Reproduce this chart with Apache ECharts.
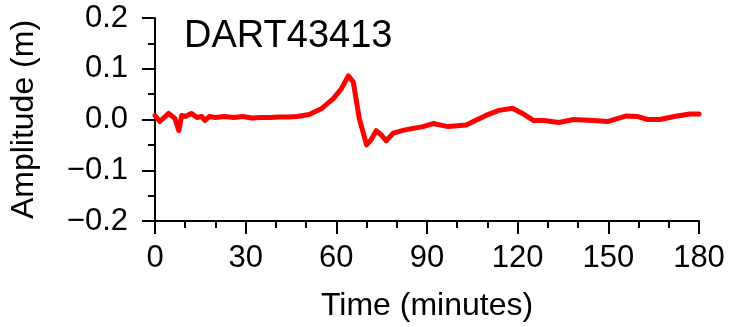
<!DOCTYPE html>
<html>
<head>
<meta charset="utf-8">
<script src="https://cdn.jsdelivr.net/npm/echarts@6/dist/echarts.min.js"></script>
<style>
  html, body { margin: 0; padding: 0; background: #fff; }
  #chart { width: 729px; height: 327px; }
</style>
</head>
<body>
<div id="chart"></div>
<script>
// Sea-surface amplitude recorded at DART buoy 43413
const stationName = 'DART43413';
const timeMinutes = [0, 1.6, 4.5, 6.6, 7.9, 8.8, 10, 12, 13.9, 15.5, 16.5, 18, 20, 23, 26, 29, 32, 35, 38, 41, 44, 47, 51, 55, 59, 61.6, 64, 65.6, 67.6, 70, 71.5, 73.2, 74.8, 76.5, 78.8, 82.4, 85, 88.7, 92, 97, 103, 106, 109.5, 113.8, 118.3, 121.6, 125.3, 128.6, 133.6, 138.5, 145, 149.7, 156, 159.5, 163, 167, 172.7, 177, 180];
const amplitudeM = [0.008, -0.004, 0.012, 0.002, -0.022, 0.008, 0.006, 0.012, 0.004, 0.006, -0.002, 0.006, 0.004, 0.006, 0.004, 0.006, 0.003, 0.004, 0.004, 0.005, 0.005, 0.006, 0.01, 0.021, 0.041, 0.06, 0.086, 0.074, 0.002, -0.05, -0.04, -0.022, -0.03, -0.042, -0.027, -0.021, -0.018, -0.014, -0.008, -0.014, -0.011, -0.002, 0.008, 0.018, 0.022, 0.012, -0.002, -0.002, -0.006, 0, -0.002, -0.004, 0.007, 0.006, 0, 0, 0.007, 0.011, 0.011];
const xTicks = [0, 30, 60, 90, 120, 150, 180];
const yTicks = [-0.2, -0.1, 0, 0.1, 0.2];

const font = '"Liberation Sans", Arial, Helvetica, sans-serif';
const chart = echarts.init(document.getElementById('chart'));

chart.setOption({
  animation: false,
  backgroundColor: '#ffffff',
  title: {
    text: stationName,
    left: 179,
    top: 13,
    textStyle: { fontFamily: font, fontSize: 38, fontWeight: 'normal', color: '#000' }
  },
  grid: { left: 153, right: 30, top: 18, bottom: 104, containLabel: false },
  xAxis: {
    type: 'value',
    min: xTicks[0],
    max: xTicks[xTicks.length - 1],
    interval: 30,
    name: 'Time (minutes)',
    nameLocation: 'middle',
    nameGap: 69,
    nameTextStyle: { fontFamily: font, fontSize: 32, color: '#000', verticalAlign: 'top' },
    axisLine: { onZero: false, lineStyle: { color: '#000', width: 2 } },
    axisTick: { show: true, length: 13, lineStyle: { color: '#000', width: 2 } },
    minorTick: { show: true, splitNumber: 3, length: 7, lineStyle: { color: '#000', width: 2 } },
    splitLine: { show: false },
    axisLabel: { fontFamily: font, fontSize: 31, color: '#000', margin: 22 }
  },
  yAxis: {
    type: 'value',
    min: yTicks[0],
    max: yTicks[yTicks.length - 1],
    interval: 0.1,
    name: 'Amplitude (m)',
    nameLocation: 'middle',
    nameGap: 115,
    nameTextStyle: { fontFamily: font, fontSize: 32, color: '#000' },
    axisLine: { show: true, onZero: false, lineStyle: { color: '#000', width: 2 } },
    axisTick: { show: true, length: 13, lineStyle: { color: '#000', width: 2 } },
    minorTick: { show: true, splitNumber: 2, length: 7, lineStyle: { color: '#000', width: 2 } },
    splitLine: { show: false },
    axisLabel: {
      fontFamily: font, fontSize: 31, color: '#000', margin: 27,
      formatter: v => v.toFixed(1).replace('-', '\u2212')
    }
  },
  series: [{
    type: 'line',
    data: timeMinutes.map((t, i) => [t, amplitudeM[i]]),
    showSymbol: false,
    lineStyle: { color: '#ff0000', width: 5, join: 'round', cap: 'round' },
    clip: false
  }]
});
</script>
</body>
</html>
